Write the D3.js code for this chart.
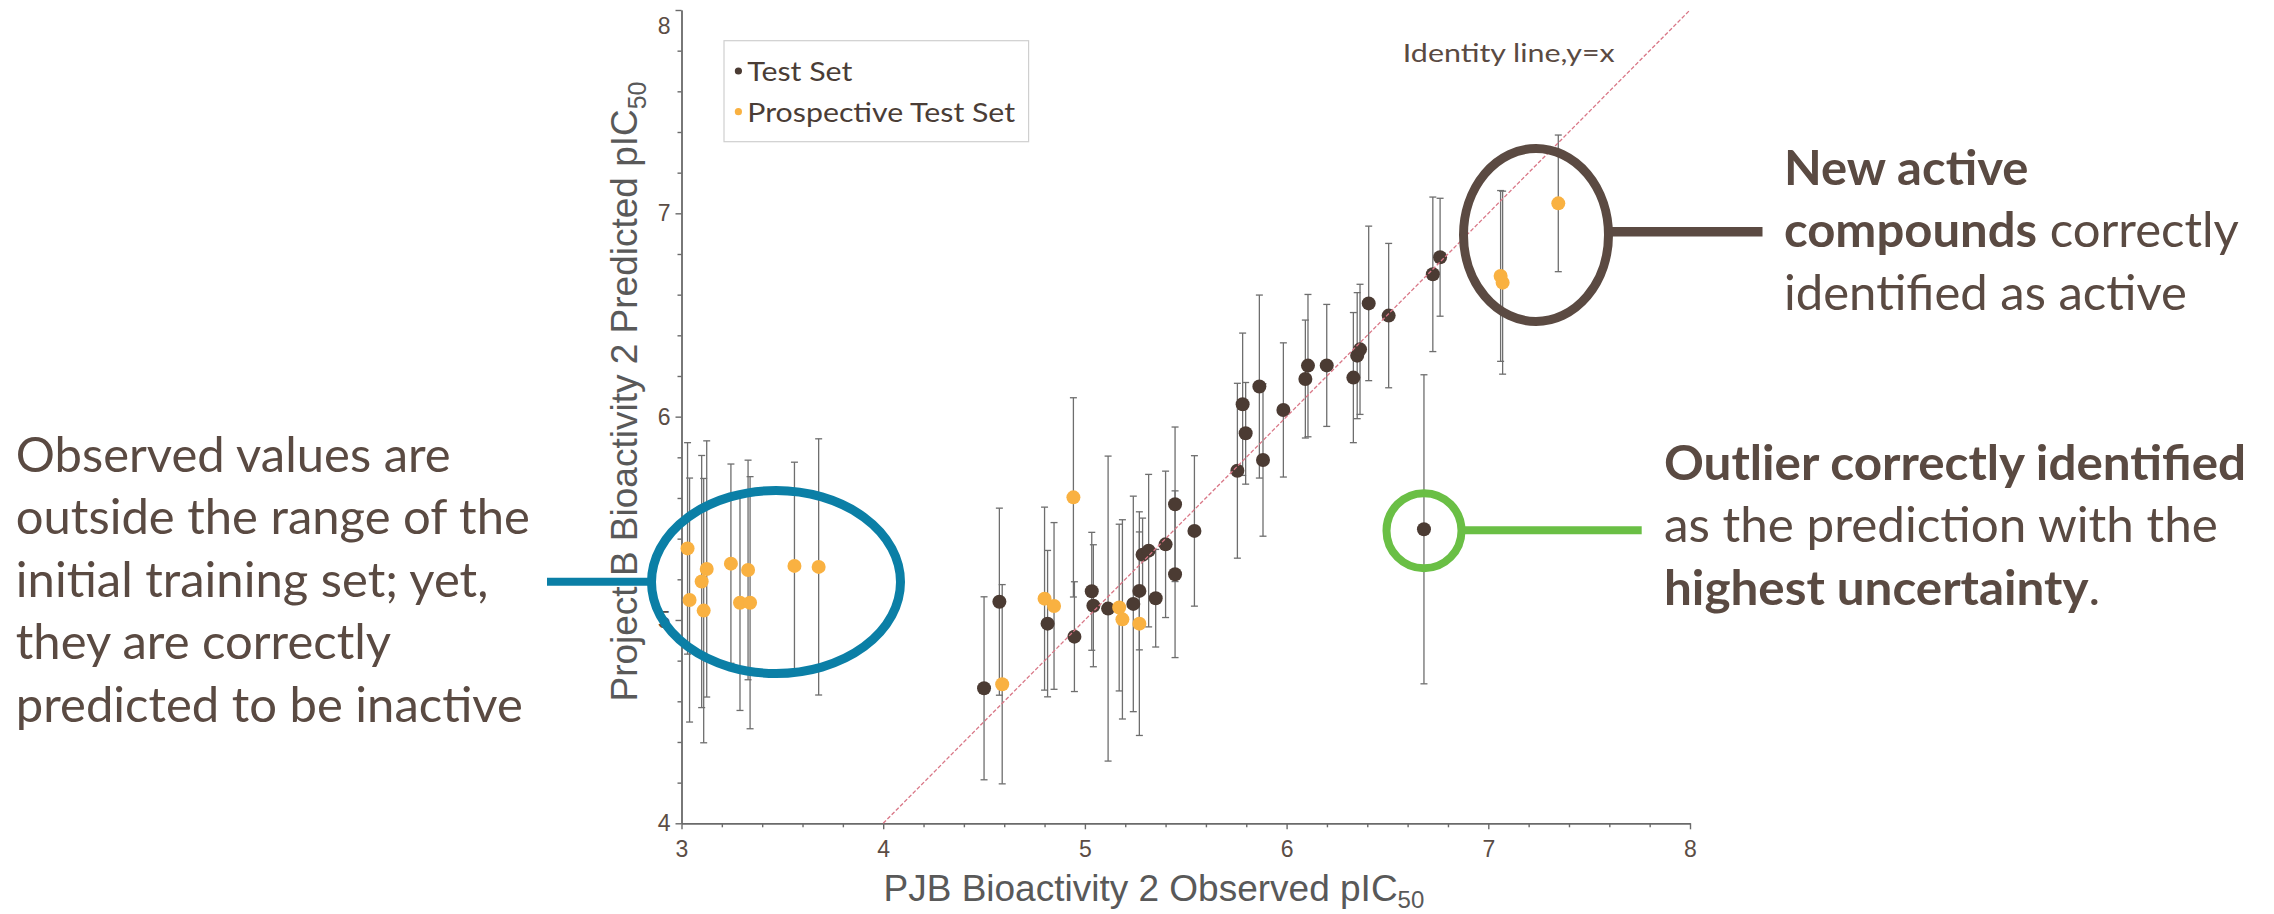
<!DOCTYPE html>
<html>
<head>
<meta charset="utf-8">
<script src="https://cdn.jsdelivr.net/npm/d3@7"></script>
<style>
	html, body { margin: 0; padding: 0; background: #fff; }
	svg { display: block; }
</style>
</head>
<body>
<div id="chart"></div>
<script>
// Test Set: observed pIC50, predicted pIC50, half length of error bar
const testObs  = [4.50, 4.576, 4.815, 4.948, 5.034, 5.042, 5.115, 5.24, 5.27, 5.286, 5.316, 5.351, 5.40, 5.447, 5.447, 5.543,
	5.756, 5.782, 5.797, 5.865, 5.883, 5.984, 6.093, 6.106, 6.199, 6.331, 6.35, 6.364, 6.407, 6.506, 6.725, 6.761, 6.681];
const testPred = [4.664, 5.09, 4.982, 4.918, 5.141, 5.070, 5.056, 5.079, 5.143, 5.321, 5.341, 5.107, 5.372, 5.569, 5.225, 5.438,
	5.734, 6.061, 5.918, 6.148, 5.787, 6.033, 6.185, 6.251, 6.252, 6.192, 6.30, 6.331, 6.557, 6.497, 6.70, 6.784, 5.446];
const testErr  = [0.45, 0.46, 0.36, 0.27, 0.29, 0.30, 0.75, 0.53, 0.29, 0.18, 0.375, 0.24, 0.36, 0.38, 0.41, 0.37,
	0.43, 0.35, 0.25, 0.45, 0.375, 0.33, 0.29, 0.35, 0.30, 0.32, 0.31, 0.32, 0.38, 0.355, 0.38, 0.29, 0.76];

// Prospective Test Set
const prosObs  = [3.03, 3.04, 3.10, 3.11, 3.125, 3.245, 3.29, 3.33, 3.34, 3.56, 3.68,
	4.59, 4.80, 4.847, 4.943, 5.17, 5.186, 5.27, 7.061, 7.071, 7.347];
const prosPred = [5.352, 5.098, 5.189, 5.046, 5.251, 5.277, 5.085, 5.246, 5.085, 5.266, 5.261,
	4.684, 5.105, 5.069, 5.603, 5.061, 5.003, 4.982, 6.692, 6.659, 7.049];
const prosErr  = [0.52, 0.60, 0.62, 0.65, 0.63, 0.49, 0.53, 0.54, 0.62, 0.51, 0.63,
	0.49, 0.45, 0.41, 0.49, 0.41, 0.49, 0.55, 0.42, 0.45, 0.336];

const xMajor = [3, 4, 5, 6, 7, 8];
const yMajor = [4, 5, 6, 7, 8];
const seriesNames = ["Test Set", "Prospective Test Set"];

const W = 2274, H = 914;
const BROWN = "#4b3b33", ORANGE = "#f9b141", INK = "#5a4a42", AXIS = "#6a6a6a";
const TEXT_FONT = "Lato, 'Open Sans', sans-serif";

const svg = d3.select("#chart").append("svg")
	.attr("width", W)
	.attr("height", H);

const x = d3.scaleLinear().domain([3, 8]).range([681.5, 1690]);
const y = d3.scaleLinear().domain([4, 8]).range([823.3, 10]);

// minor ticks every 0.2
const minorOf = ext => d3.range(ext[0] * 5 + 1, ext[1] * 5).map(v => v / 5).filter(v => v % 1 !== 0);

function styleAxis(g) {
	g.selectAll("path, line").attr("stroke", AXIS).attr("stroke-width", 1.4);
	g.selectAll("text")
		.attr("fill", "#5b4d45")
		.style("font-family", "'Liberation Sans', Arial, sans-serif")
		.style("font-size", "23px");
}

// x axis
svg.append("g")
	.attr("transform", `translate(0,${y(4)})`)
	.call(d3.axisBottom(x).tickValues(minorOf([3, 8])).tickSize(4).tickSizeOuter(0).tickFormat(""))
	.call(styleAxis);
svg.append("g")
	.attr("transform", `translate(0,${y(4)})`)
	.call(d3.axisBottom(x).tickValues(xMajor).tickSize(6).tickSizeOuter(0).tickPadding(11).tickFormat(d3.format("d")))
	.call(styleAxis);

// y axis
svg.append("g")
	.attr("transform", `translate(${x(3)},0)`)
	.call(d3.axisLeft(y).tickValues(minorOf([4, 8])).tickSize(4).tickSizeOuter(0).tickFormat(""))
	.call(styleAxis);
svg.append("g")
	.attr("transform", `translate(${x(3)},0)`)
	.call(d3.axisLeft(y).tickValues(yMajor).tickSize(6).tickSizeOuter(0).tickPadding(5).tickFormat(d3.format("d")))
	.call(styleAxis)
	.selectAll("text")
	.attr("dy", d => d === 8 ? "1.0em" : "0.32em"); // top label sits below its tick

// axis titles
const xTitle = svg.append("text")
	.attr("x", 883.5).attr("y", 901)
	.attr("fill", "#595959")
	.style("font-family", "'Liberation Sans', Arial, sans-serif")
	.style("font-size", "37px")
	.text("PJB Bioactivity 2 Observed pIC");
xTitle.append("tspan").attr("dy", 7).style("font-size", "24px").text("50");

const yTitle = svg.append("text")
	.attr("transform", "translate(637,391.5) rotate(-90)")
	.attr("text-anchor", "middle")
	.attr("fill", "#595959")
	.style("font-family", "'Liberation Sans', Arial, sans-serif")
	.style("font-size", "37px")
	.text("Project B Bioactivity 2 Predicted pIC");
yTitle.append("tspan").attr("dy", 9).style("font-size", "25px").text("50");

// data
const testData = testObs.map((v, i) => ({ obs: v, pred: testPred[i], err: testErr[i] }));
const prosData = prosObs.map((v, i) => ({ obs: v, pred: prosPred[i], err: prosErr[i] }));

function drawBars(data) {
	const g = svg.append("g")
		.attr("stroke", "#6e6e6e")
		.attr("stroke-width", 1.3);
	const bar = g.selectAll("g").data(data).enter().append("g");
	bar.append("line")
		.attr("x1", d => x(d.obs)).attr("x2", d => x(d.obs))
		.attr("y1", d => y(d.pred + d.err)).attr("y2", d => y(d.pred - d.err));
	bar.append("line")
		.attr("x1", d => x(d.obs) - 3.5).attr("x2", d => x(d.obs) + 3.5)
		.attr("y1", d => y(d.pred + d.err)).attr("y2", d => y(d.pred + d.err));
	bar.append("line")
		.attr("x1", d => x(d.obs) - 3.5).attr("x2", d => x(d.obs) + 3.5)
		.attr("y1", d => y(d.pred - d.err)).attr("y2", d => y(d.pred - d.err));
}

function drawPoints(data, color) {
	svg.append("g").selectAll("circle").data(data).enter().append("circle")
		.attr("cx", d => x(d.obs))
		.attr("cy", d => y(d.pred))
		.attr("r", 7)
		.attr("fill", color);
}

drawBars(testData);
drawBars(prosData);
drawPoints(testData, BROWN);
drawPoints(prosData, ORANGE);

// identity line y = x
svg.append("line")
	.attr("x1", x(4)).attr("y1", y(4))
	.attr("x2", x(8)).attr("y2", y(8))
	.attr("stroke", "#d97787")
	.attr("stroke-width", 1.3)
	.attr("stroke-dasharray", "4,2");

// fit a block of lines horizontally so the reference line gets the wanted width
function textBlock(x0, lines, baselines, size, refIndex, refWidth, color) {
	const g = svg.append("g");
	const texts = lines.map((parts, i) => {
		const t = g.append("text")
			.attr("x", 0).attr("y", baselines[i])
			.attr("fill", color)
			.style("font-family", TEXT_FONT)
			.style("font-size", size + "px");
		parts.forEach(p => t.append("tspan").style("font-weight", p[1] ? 700 : 400).text(p[0]));
		return t;
	});
	const k = refWidth / texts[refIndex].node().getComputedTextLength();
	g.attr("transform", `translate(${x0},0) scale(${k},1)`);
	return g;
}

// legend
svg.append("rect")
	.attr("x", 724).attr("y", 40.7)
	.attr("width", 304.6).attr("height", 101)
	.attr("fill", "#fff")
	.attr("stroke", "#cfcfcf")
	.attr("stroke-width", 1.2);
const legColors = [BROWN, ORANGE];
svg.append("g").selectAll("circle").data(seriesNames).enter().append("circle")
	.attr("cx", 738.4)
	.attr("cy", (d, i) => 71 + i * 40.7)
	.attr("r", 3.6)
	.attr("fill", (d, i) => legColors[i]);
textBlock(747.3, seriesNames.map(s => [[s, false]]), [81, 121.7], 27, 1, 268, "#4a3d36");

// identity label
textBlock(1402.8, [[["Identity line,y=x", false]]], [61.7], 25.5, 0, 212, INK);

// annotations
svg.append("ellipse")
	.attr("cx", 776).attr("cy", 582)
	.attr("rx", 124.5).attr("ry", 91.5)
	.attr("fill", "none").attr("stroke", "#0b7fa6").attr("stroke-width", 9);
svg.append("line")
	.attr("x1", 547).attr("x2", 653).attr("y1", 581.7).attr("y2", 581.7)
	.attr("stroke", "#0b7fa6").attr("stroke-width", 8);

svg.append("ellipse")
	.attr("cx", 1536).attr("cy", 235)
	.attr("rx", 72.5).attr("ry", 86.5)
	.attr("fill", "none").attr("stroke", "#5b4a42").attr("stroke-width", 9);
svg.append("line")
	.attr("x1", 1608).attr("x2", 1762.5).attr("y1", 231.7).attr("y2", 231.7)
	.attr("stroke", "#5b4a42").attr("stroke-width", 9.5);

svg.append("circle")
	.attr("cx", 1424).attr("cy", 530.7).attr("r", 37.5)
	.attr("fill", "none").attr("stroke", "#6abf45").attr("stroke-width", 8);
svg.append("line")
	.attr("x1", 1461).attr("x2", 1641.7).attr("y1", 530.3).attr("y2", 530.3)
	.attr("stroke", "#6abf45").attr("stroke-width", 8);

textBlock(15.8, [
	[["Observed values are", false]],
	[["outside the range of the", false]],
	[["initial training set; yet,", false]],
	[["they are correctly", false]],
	[["predicted to be inactive", false]]
], [472, 534.5, 597, 659.5, 722], 48, 0, 435, INK);

textBlock(1784, [
	[["New active", true]],
	[["compounds", true], [" correctly", false]],
	[["identified as active", false]]
], [185, 247.5, 310], 48, 2, 403, INK);

textBlock(1664, [
	[["Outlier correctly identified", true]],
	[["as the prediction with the", false]],
	[["highest uncertainty", true], [".", false]]
], [480, 542.5, 605], 48, 1, 554, INK);
</script>
</body>
</html>
